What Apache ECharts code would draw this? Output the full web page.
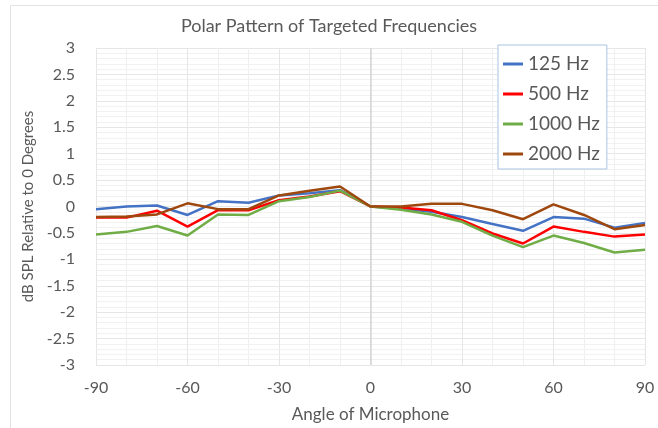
<!DOCTYPE html>
<html>
<head>
<meta charset="utf-8">
<script src="https://cdn.jsdelivr.net/npm/echarts@6/dist/echarts.min.js"></script>
<style>
  html, body { margin: 0; padding: 0; background: #fff; }
  #chart { width: 658px; height: 428px; }
</style>
</head>
<body>
<div id="chart"></div>
<script>
// Microphone angle (degrees) for each measurement
const angles = [-90, -80, -70, -60, -50, -40, -30, -20, -10, 0, 10, 20, 30, 40, 50, 60, 70, 80, 90];

// dB SPL relative to 0 degrees, per frequency
const hz125  = [-0.05, 0.00, 0.02, -0.16, 0.10, 0.07, 0.21, 0.25, 0.31, 0, -0.04, -0.10, -0.20, -0.33, -0.46, -0.20, -0.23, -0.40, -0.31];
const hz500  = [-0.21, -0.21, -0.08, -0.38, -0.07, -0.07, 0.12, 0.19, 0.29, 0, -0.02, -0.07, -0.26, -0.51, -0.70, -0.38, -0.48, -0.57, -0.53];
const hz1000 = [-0.53, -0.48, -0.37, -0.55, -0.15, -0.16, 0.10, 0.18, 0.30, 0, -0.06, -0.15, -0.29, -0.55, -0.77, -0.55, -0.69, -0.87, -0.82];
const hz2000 = [-0.20, -0.19, -0.15, 0.06, -0.05, -0.05, 0.21, 0.30, 0.38, 0, 0.00, 0.05, 0.05, -0.07, -0.24, 0.04, -0.16, -0.43, -0.35];

const seriesNames = ['125 Hz', '500 Hz', '1000 Hz', '2000 Hz'];
const seriesColors = ['#4472C4', '#FF0000', '#70AD47', '#9E480E'];
const seriesValues = [hz125, hz500, hz1000, hz2000];

const font = 'Lato, "Open Sans", sans-serif';
const textGray = '#595959';
const chart = echarts.init(document.getElementById('chart'), null, { renderer: 'canvas' });

const series = seriesValues.map((vals, i) => ({
  name: seriesNames[i],
  type: 'line',
  data: angles.map((a, j) => [a, vals[j]]),
  showSymbol: false,
  symbol: 'none',
  lineStyle: { width: 2.5, color: seriesColors[i] },
  itemStyle: { color: seriesColors[i] },
  z: 3 + i,
  animation: false
}));

// vertical axis line through 0 degrees
series[0].markLine = {
  silent: true,
  symbol: 'none',
  label: { show: false },
  lineStyle: { color: '#d4d4d4', width: 1.5, type: 'solid' },
  data: [{ xAxis: 0 }],
  z: 1
};

chart.setOption({
  animation: false,
  backgroundColor: '#fff',
  graphic: [{
    type: 'rect',
    shape: { x: 10.5, y: 5.5, width: 660, height: 440 },
    style: { fill: 'none', stroke: '#e2e2e2', lineWidth: 1 },
    silent: true,
    z: -1
  }],
  title: {
    text: 'Polar Pattern of Targeted Frequencies',
    left: 'center',
    top: 12,
    textStyle: { fontFamily: font, fontSize: 18, fontWeight: 'normal', color: textGray }
  },
  legend: {
    orient: 'vertical',
    left: 498,
    top: 45,
    padding: [9, 7, 5, 5],
    itemGap: 10,
    itemWidth: 20,
    itemHeight: 3,
    icon: 'rect',
    borderColor: '#a8c3e3',
    borderWidth: 1,
    backgroundColor: '#fff',
    textStyle: { fontFamily: font, fontSize: 19, color: textGray, lineHeight: 20 },
    data: seriesNames
  },
  grid: { left: 96, right: 13, top: 48, bottom: 58 },
  xAxis: {
    type: 'value',
    min: -90,
    max: 90,
    interval: 30,
    name: 'Angle of Microphone',
    nameLocation: 'middle',
    nameGap: 41,
    nameTextStyle: { fontFamily: font, fontSize: 17, color: textGray },
    axisLine: { show: false },
    axisTick: { show: false },
    axisLabel: { fontFamily: font, fontSize: 16, color: textGray, margin: 15 },
    splitLine: { show: true, lineStyle: { color: '#e6e6e6', width: 1 } },
    minorTick: { show: false, splitNumber: 3 },
    minorSplitLine: { show: true, lineStyle: { color: '#efefef', width: 1 } }
  },
  yAxis: {
    type: 'value',
    min: -3,
    max: 3,
    interval: 0.5,
    name: 'dB SPL Relative to 0 Degrees',
    nameLocation: 'middle',
    nameGap: 55,
    nameRotate: 90,
    nameTextStyle: { fontFamily: font, fontSize: 15, color: textGray },
    axisLine: { show: false },
    axisTick: { show: false },
    axisLabel: { fontFamily: font, fontSize: 16, color: textGray, margin: 21 },
    splitLine: { show: true, lineStyle: { color: '#e6e6e6', width: 1 } },
    minorTick: { show: false, splitNumber: 5 },
    minorSplitLine: { show: true, lineStyle: { color: '#f1f1f1', width: 1 } }
  },
  series: series
});
</script>
</body>
</html>
